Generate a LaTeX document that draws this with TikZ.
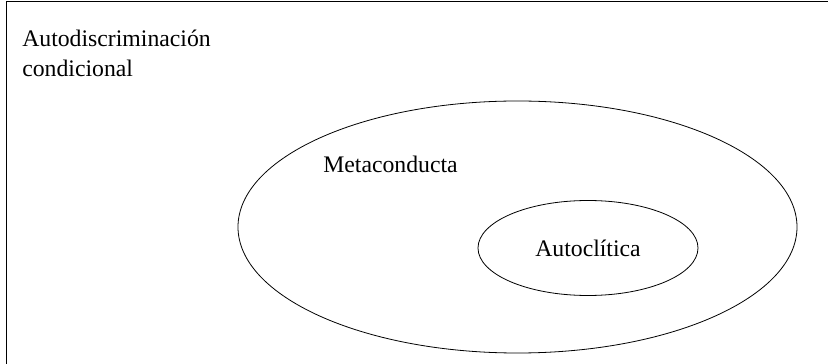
\documentclass[tikz,border=0pt]{standalone}
\usepackage{fontspec}
\setmainfont{Liberation Serif}
\usetikzlibrary{shapes.geometric}
\begin{document}
\begin{tikzpicture}[line join=round, font=\fontsize{17.8}{22.5}\selectfont, x=.75pt, y=.75pt,
    conj/.style={ellipse, draw, line width=.6pt, inner sep=0pt},
    lbl/.style={inner sep=0pt}]
        \useasboundingbox (0,0) rectangle (828,364);
        \draw[line width=1pt] (6.5,0) -- (6.5,362.3) -- (828,362.3);
        \node[lbl, align=left, anchor=north west] (auto) at (22,334) {Autodiscriminación\\condicional};
        \node[conj, minimum width=419.25pt, minimum height=189pt] (meta) at (517.5,137) {};
        \node[lbl, anchor=base west] (metatxt) at (323,191) {Metaconducta};
        \node[conj, minimum width=165pt, minimum height=71.25pt] (autocl) at (588,116) {Autoclítica};
    \end{tikzpicture}
\end{document}
